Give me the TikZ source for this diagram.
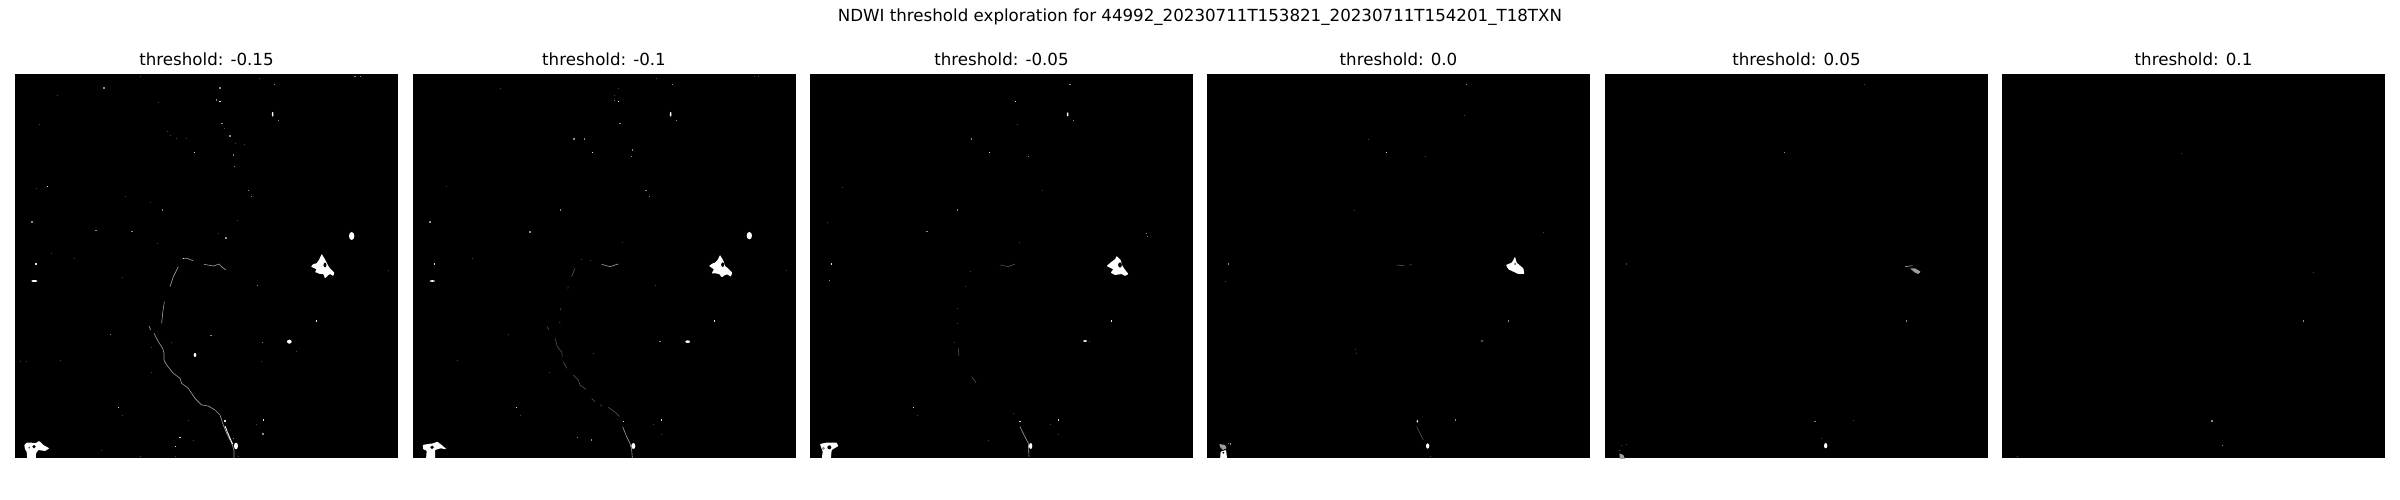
\documentclass[tikz,border=0pt]{standalone}
\usepackage{fontspec}
\setmainfont{DejaVu Sans}
\tikzset{
  panelbg/.style={fill=black},
  paneltitle/.style={anchor=base,font=\fontsize{12bp}{14bp}\selectfont,text=black,inner sep=0pt},
  figtitle/.style={anchor=base,font=\fontsize{12bp}{14bp}\selectfont,text=black,inner sep=0pt},
  crop/.style 2 args={shift={(#1,#2)},x=0.24bp,y=-0.24bp},
  river/.style={draw=white!62!black,line width=0.45bp,line join=round},
  riverdim/.style={draw=white!35!black,line width=0.4bp,line join=round},
  lake/.style={fill=white,rounded corners=0.4bp},
  lakegray/.style={fill=white!62!black,rounded corners=0.4bp}
}
% #1 colour, #2 half size, #3 list of points (all in 3x crop units)
\newcommand\Spk[3]{\foreach \px/\py in {#3} {\fill[#1] (\px-#2,\py-#2) rectangle (\px+#2,\py+#2);}}
\newcommand\Hi[1]{\Spk{white!90!black}{2.4}{#1}}
\newcommand\Mid[1]{\Spk{white!55!black}{1.6}{#1}}
\newcommand\Low[1]{\Spk{white!28!black}{1.3}{#1}}
\newcommand\Oval[4]{\fill[white] (#1,#2) ellipse [x radius=#3,y radius=#4];}
\newcommand\Panel[1]{\fill[panelbg] (#1,74) rectangle ++(383,384);}
\newcommand\PanelClip[1]{\clip (#1,74) rectangle ++(383,384);}
\begin{document}
\begin{tikzpicture}[x=0.72bp,y=-0.72bp]
\useasboundingbox (0,0) rectangle (2400,500);
\fill[white] (0,0) rectangle (2400,500);
\node[figtitle] (suptitle) at (1200,21.5) {NDWI threshold exploration for 44992\_20230711T153821\_20230711T154201\_T18TXN};
\node[paneltitle] (t1) at (206.5,66) {threshold: -0.15};
\node[paneltitle] (t2) at (604,66) {threshold: -0.1};
\node[paneltitle] (t3) at (1001.5,66) {threshold: -0.05};
\node[paneltitle] (t4) at (1398.5,66) {threshold: 0.0};
\node[paneltitle] (t5) at (1796.5,66) {threshold: 0.05};
\node[paneltitle] (t6) at (2193.5,66) {threshold: 0.1};
\Panel{15}\Panel{413}\Panel{810}\Panel{1207}\Panel{1605}\Panel{2002}

% ---------- panel 1
\begin{scope}
\PanelClip{15}
\begin{scope}[crop={0}{0}]
\Hi{660/305,584/458,143/559}
\Oval{818}{343}{2.5}{7}
\Oval{1055}{708}{8}{12}
\Mid{824/254,666/370,835/362,650/300,96/666,288/691,396/695,488/630,700/465,703/500,690/408,745/572,754/590,660/264,678/714,312/264,1082/230,1065/229}
\Low{420/228,172/286,118/373,110/565,501/393,511/405,530/416,560/416,733/433,705/430,475/307,777/235,377/590,450/607,712/662,655/700,472/730,672/385}
\end{scope}
\begin{scope}[crop={0}{250}]
\fill[lake] (965,12)--(975,28)--(985,48)--(990,55)--(1003,68)--(1000,78)--(990,72)--(985,75)--(975,85)--(970,72)--(960,72)--(945,66)--(950,58)--(933,50)--(940,42)--(950,40)--(958,28)--cycle;
\fill[black] (975,45) ellipse [x radius=4.5,y radius=7];
\fill[lake] (73,585)--(80,578)--(95,578)--(105,580)--(118,573)--(130,585)--(148,595)--(135,603)--(115,600)--(108,610)--(108,630)--(82,630)--(80,605)--(75,598)--cycle;
\fill[black] (102,590) circle [radius=5.5];
\fill[white!40!black] (88,593) circle [radius=3];
\path[river] (447,228)--(452,240) (462,250)--(475,275)--(488,295)--(492,310)--(492,330)--(500,345)--(520,370)--(540,385)--(545,400)--(565,415)--(585,445)--(605,465)--(625,468)--(645,480)--(660,495)--(668,520)--(680,550)--(695,580)--(702,600)--(702,624)
 (485,220)--(488,190)--(493,155) (510,110)--(520,80)--(535,50) (548,25)--(560,25)--(580,32) (612,43)--(640,48)--(658,42)--(662,48)--(678,60);
\draw[white,line width=0.6bp] (675,528)--(690,565)--(698,582);
\Hi{550/25,675/513,355/473,790/510,108/42,950/213,527/590,540/563}
\Oval{708}{588}{6}{10}\Oval{868}{275}{7}{6}\Oval{103}{93}{9}{3}\Oval{585}{315}{4}{6}
\Mid{772/107,787/277,633/256,332/253,789/552,700/565,683/545}
\Low{155/10,223/25,367/82,1165/60,60/333,80/333,180/330,455/292,515/278,785/335,455/368,368/495,565/510,580/570,768/523,888/303,303/600,420/620,525/620,715/620}
\end{scope}
\end{scope}

% ---------- panel 2
\begin{scope}
\PanelClip{413}
\begin{scope}[crop={400}{50}]
\Hi{655/155,578/308}
\Oval{812}{193}{2.5}{7}
\Oval{1048}{557}{8}{11}
\Mid{818/104,660/220,830/212,643/152,90/516,103/641,390/546,482/480,694/320,697/300,738/422,748/440,522/267,553/267}
\Low{770/85,1062/80,1076/80,302/115,642/135,655/115,138/410,217/625,667/576,545/628,570/632}
\end{scope}
\begin{scope}[crop={400}{260}]
\fill[lake] (960,-15)--(970,2)--(975,18)--(984,25)--(997,38)--(992,50)--(982,43)--(975,45)--(965,52)--(958,42)--(945,40)--(935,40)--(942,28)--(927,18)--(938,10)--(945,8)--(953,0)--cycle;
\fill[black] (968,14) ellipse [x radius=4.5,y radius=7];
\fill[lake] (68,555)--(85,552)--(100,550)--(112,545)--(125,555)--(140,568)--(122,565)--(105,570)--(105,600)--(78,600)--(80,572)--(70,568)--cycle;
\fill[black] (96,562) circle [radius=5.5];
\path[riverdim] (442,200)--(446,210) (465,235)--(472,260)--(485,275)--(487,290) (490,305)--(500,325) (520,345)--(535,360)--(540,375)--(558,388) (575,415)--(585,425) (600,435) -- (605,437) (625,442)--(650,460)--(658,470) (515,50)--(525,25) (505,80)--(503,85) (480,190)--(479,185) (482,145)--(481,150);
\path[river] (605,13)--(630,20)--(655,12) (668,500)--(680,530)--(690,550)--(695,570)--(697,594);
\Hi{670/484,350/443,785/480,103/12,943/183}
\Oval{700}{558}{6}{9}\Oval{863}{245}{7}{4}\Oval{97}{63}{8}{2.5}
\Mid{780/245,532/533,574/540}
\Low{325/223,172/302,580/280,448/338,360/465,760/492,785/522,767/77,1160/30}
\end{scope}
\end{scope}

% ---------- panel 3
\begin{scope}
\PanelClip{810}
\begin{scope}[crop={800}{50}]
\Hi{646/155,569/308}
\Mid{1040/550,1043/560}
\Oval{803}{193}{2.5}{6}
\Mid{810/104,820/212,515/267,685/320,473/480,94/641,381/545}
\Low{652/222,128/412,81/516,727/421,658/576}
\end{scope}
\begin{scope}[crop={800}{260}]
\fill[lake] (950,-12)--(962,0)--(966,15)--(972,25)--(985,42)--(975,48)--(965,42)--(945,45)--(932,38)--(940,28)--(920,18)--(935,5)--(945,-2)--cycle;
\fill[black] (960,15) ellipse [x radius=5.5,y radius=8];
\fill[lake] (60,552)--(80,548)--(110,548)--(115,558)--(95,570)--(92,600)--(65,600)--(68,575)--cycle;
\fill[black] (88,562) circle [radius=6];
\fill[white!55!black] (70,565) circle [radius=5];
\path[riverdim] (475,265)--(477,288) (515,350)--(528,368) (600,15)--(625,20)--(645,12);
\path[river] (660,500)--(672,525)--(685,550)--(687,590);
\Hi{660/484,341/443,776/480,935/183,95/12}
\Oval{692}{558}{5}{9}\Oval{855}{243}{6}{2.5}
\Mid{88/62}
\Low{352/465,565/540,752/492,775/522,640/460,462/248,472/190,473/145,495/80,512/35,868/243}
\end{scope}
\end{scope}

% ---------- panel 4
\begin{scope}
\PanelClip{1207}
\begin{scope}[crop={1200}{50}]
\Hi{560/308}
\Mid{800/104,85/641}
\Low{792/196,505/267,676/320,463/480,1030/548,600/645}
\end{scope}
\begin{scope}[crop={1200}{260}]
\fill[lake] (945,-10)--(950,8)--(970,25)--(973,42)--(955,42)--(940,35)--(925,28)--(918,15)--(935,8)--(940,0)--cycle;
\fill[white!30!black] (945,12) circle [radius=3];
\fill[lakegray] (58,552)--(75,555)--(80,565)--(68,570)--(60,560)--cycle;
\fill[lake] (62,575)--(78,570)--(82,600)--(60,600)--cycle;
\fill[black] (70,578) circle [radius=3];
\Mid{92/552,85/550}
\path[riverdim] (650,500)--(660,520)--(670,540) (590,15)--(612,17) (628,15)--(635,14);
\Mid{85/12,925/183,767/480}
\Oval{683}{558}{5}{8}\Oval{652}{484}{2.5}{4}
\Oval{846}{243}{4}{1.5}
\Low{76/65,465/268,468/280,690/590}
\end{scope}
\end{scope}

% ---------- panel 5
\begin{scope}
\PanelClip{1605}
\begin{scope}[crop={1600}{50}]
\Mid{554/308}
\Low{794/104,79/641}
\end{scope}
\begin{scope}[crop={1600}{260}]
\fill[lakegray] (930,25)--(945,25)--(962,35)--(955,42)--(945,38)--cycle;
\path[river] (915,20)--(938,17);
\fill[lakegray] (58,580)--(70,585)--(76,600)--(60,600)--cycle;
\Oval{677}{557}{5}{8}
\Mid{645/484,919/183}
\Low{761/481,79/12,663/535,65/555,80/553,58/572}
\end{scope}
\end{scope}

% ---------- panel 6
\begin{scope}
\PanelClip{2002}
\begin{scope}[crop={2000}{50}]
\Mid{636/1113,667/1186,910/813}
\Low{545/309,939/667,52/1220}
\end{scope}
\end{scope}
\end{tikzpicture}
\end{document}
